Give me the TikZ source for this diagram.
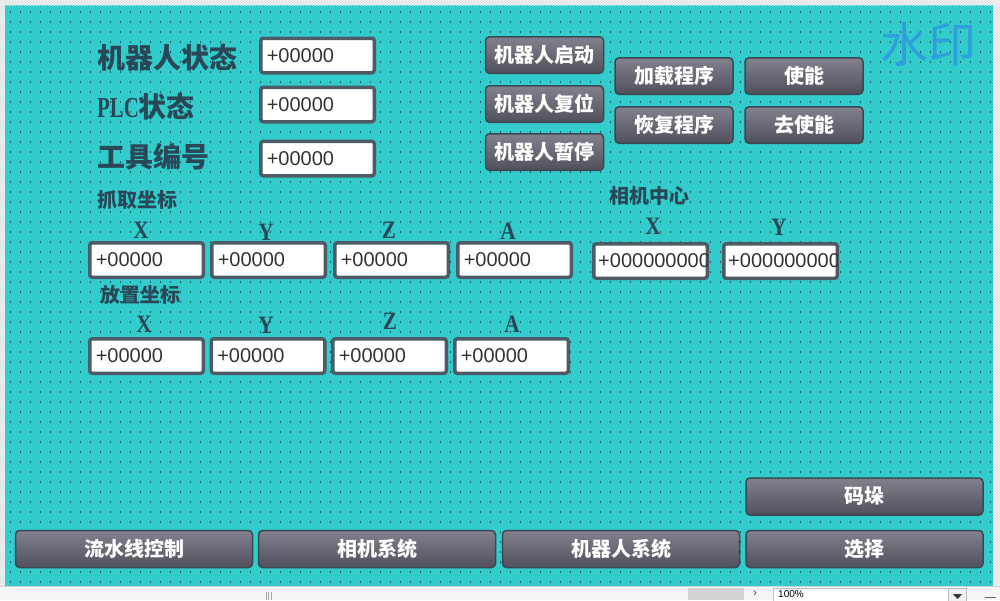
\documentclass[tikz,border=0pt]{standalone}
\usepackage{fontspec}
\setmainfont{Liberation Serif}
\setsansfont{Liberation Sans}
\newfontfamily\cjk{Noto Sans CJK SC}
\usetikzlibrary{math}
\usetikzlibrary{patterns}

\definecolor{panel}{HTML}{33CCCC}
\definecolor{griddot}{HTML}{1E5A5E}
\definecolor{labelblue}{HTML}{284858}
\definecolor{framegray}{HTML}{4E5A66}
\definecolor{btntop}{HTML}{82828F}
\definecolor{btnbot}{HTML}{50505C}
\definecolor{btnedge}{HTML}{3A4852}
\definecolor{wmblue}{HTML}{2E9FDB}

\newcommand{\narrow}[1]{\scalebox{0.85}[1]{#1}}

\tikzset{
  valbox/.style={draw=framegray, line width=3.5pt, fill=white, rounded corners=2.5pt,
    minimum height=34.5pt, inner xsep=6pt, text width=101.5pt, align=left,
    font=\sffamily\fontsize{20}{20}\selectfont, text=black!80},
  valtext/.style={font=\sffamily\fontsize{20}{20}\selectfont, text=black!80, inner xsep=6pt},
  btn/.style={draw=btnedge, line width=1.5pt, rounded corners=4pt, top color=btntop,
    bottom color=btnbot, text=white, inner sep=0pt,
    font=\cjk\bfseries\fontsize{20}{20}\selectfont},
  btnsmall/.style={btn, minimum width=118pt, minimum height=36.5pt},
  btnwide/.style={btn, minimum width=237pt, minimum height=37pt},
  biglabel/.style={text=labelblue, anchor=west, inner sep=0pt,
    font=\cjk\bfseries\fontsize{28}{28}\selectfont},
  smalllabel/.style={text=labelblue, anchor=west, inner sep=0pt,
    font=\cjk\bfseries\fontsize{20}{20}\selectfont},
  axis/.style={text=labelblue, inner sep=0pt, font=\rmfamily\bfseries\fontsize{25}{25}\selectfont}
}

\begin{document}
\begin{tikzpicture}[x=1pt, y=-1pt]

    \useasboundingbox (0,0) rectangle (1000,600);
    \clip (0,0) rectangle (1000,600);
    \fill[panel] (0,0) rectangle (1000,600);
    \foreach \y in {12,22,...,582}
        \draw[griddot, line width=1.3pt, dash pattern=on 1.3pt off 8.7pt] (10,\y) -- (993,\y);

    \fill[gray!25] (0,0) rectangle (1000,5);
    \fill[gray!25] (0,0) rectangle (5,586);
    \fill[gray!25] (993,0) rectangle (1000,586);
    \fill[pattern=north east lines, pattern color=white] (0,0) rectangle (1000,5);
    \fill[pattern=north east lines, pattern color=white] (0,0) rectangle (5,586);
    \fill[pattern=north east lines, pattern color=white] (993,0) rectangle (1000,586);

    \node[text=wmblue, font=\cjk\fontsize{48}{48}\selectfont] (wm) at (928,44) {水印};

    \node[biglabel] (rstate) at (97,58) {机器人状态};
    \node[biglabel] (plcstate) at (97,107) {{\rmfamily\bfseries\fontsize{29}{29}\selectfont\scalebox{0.72}[1]{PLC}}状态};
    \node[biglabel] (toolno) at (97,157) {工具编号};
    \node[valbox] (rstatev) at (317.5,55.5) {+00000};
    \node[valbox] (plcstatev) at (317.5,104.5) {+00000};
    \node[valbox] (toolnov) at (317.5,158.5) {+00000};

    \node[btnsmall] (rstart) at (544.5,55) {机器人启动};
    \node[btnsmall] (rreset) at (544.5,104) {机器人复位};
    \node[btnsmall] (rpause) at (544.5,152) {机器人暂停};
    \node[btnsmall] (load) at (674,76) {加载程序};
    \node[btnsmall] (enable) at (804,76) {使能};
    \node[btnsmall] (restore) at (674,125) {恢复程序};
    \node[btnsmall] (disable) at (804,125) {去使能};

    \tikzmath{\ya = 260;};
    \tikzmath{\yb = 356;};
    \node[smalllabel] (grab) at (97,200) {抓取坐标};
    \foreach \n/\x in {1/146.5, 2/268.5, 3/391.5, 4/514.5}
        \node[valbox] (grab\n) at (\x,\ya) {+00000};
    \foreach \n/\x/\y/\t in {1/141/230/X, 2/266/232/Y, 3/389/230/Z, 4/508/231/A}
        \node[axis] (grabax\n) at (\x,\y) {\narrow{\t}};

    \node[smalllabel] (place) at (100,295) {放置坐标};
    \foreach \n/\x in {1/146.5, 2/268, 3/389.5, 4/511.5}
        \node[valbox] (place\n) at (\x,\yb) {+00000};
    \foreach \n/\x/\y/\t in {1/144/324/X, 2/266/325/Y, 3/390/321/Z, 4/512/324/A}
        \node[axis] (placeax\n) at (\x,\y) {\narrow{\t}};

    \node[smalllabel] (cam) at (609,196) {相机中心};
    \node[axis] (camax1) at (653,226) {\narrow{X}};
    \node[axis] (camax2) at (779,227) {\narrow{Y}};
    \node[valbox] (camx) at (650.5,261) {};
    \node[valbox] (camy) at (780.5,261) {};
    \foreach \c in {camx,camy} {
        \begin{scope}
            \clip ([shift={(1.75pt,-1.75pt)}]\c.north west) rectangle ([shift={(-1.75pt,1.75pt)}]\c.south east);
            \node[valtext, anchor=west] (\c-txt) at (\c.west) {+000000000};
        \end{scope}
    }

    \node[btnwide] (stack) at (864.5,496.5) {码垛};
    \node[btnwide] (line) at (134,549) {流水线控制};
    \node[btnwide] (camsys) at (377,549) {相机系统};
    \node[btnwide] (robsys) at (621,549) {机器人系统};
    \node[btnwide] (choose) at (864.5,549) {选择};

    \fill[gray!8] (0,586) rectangle (1000,600);
    \draw[gray!35] (0,586.5) -- (1000,586.5);
    \draw[gray!70, line width=0.8pt] (266,592) -- (266,600) (268.5,592) -- (268.5,600) (271,592) -- (271,600);
    \fill[gray!35] (688,588) rectangle (744,600);
    \node[font=\sffamily\fontsize{12}{12}\selectfont, text=black!70] (scroll) at (755,594) {›};
    \draw[gray!50, fill=white] (773,588) rectangle (948,601);
    \node[font=\sffamily\fontsize{10}{10}\selectfont, anchor=west, inner sep=0pt] (zoomval) at (778,594) {100\%};
    \draw[gray!50, fill=gray!12] (948,588) rectangle (966,601);
    \fill[black!80] (953,594) -- (962,594) -- (957.5,599) -- cycle;
    \draw[black!60, line width=0.8pt] (985,597) -- (996,597);

\end{tikzpicture}
\end{document}
